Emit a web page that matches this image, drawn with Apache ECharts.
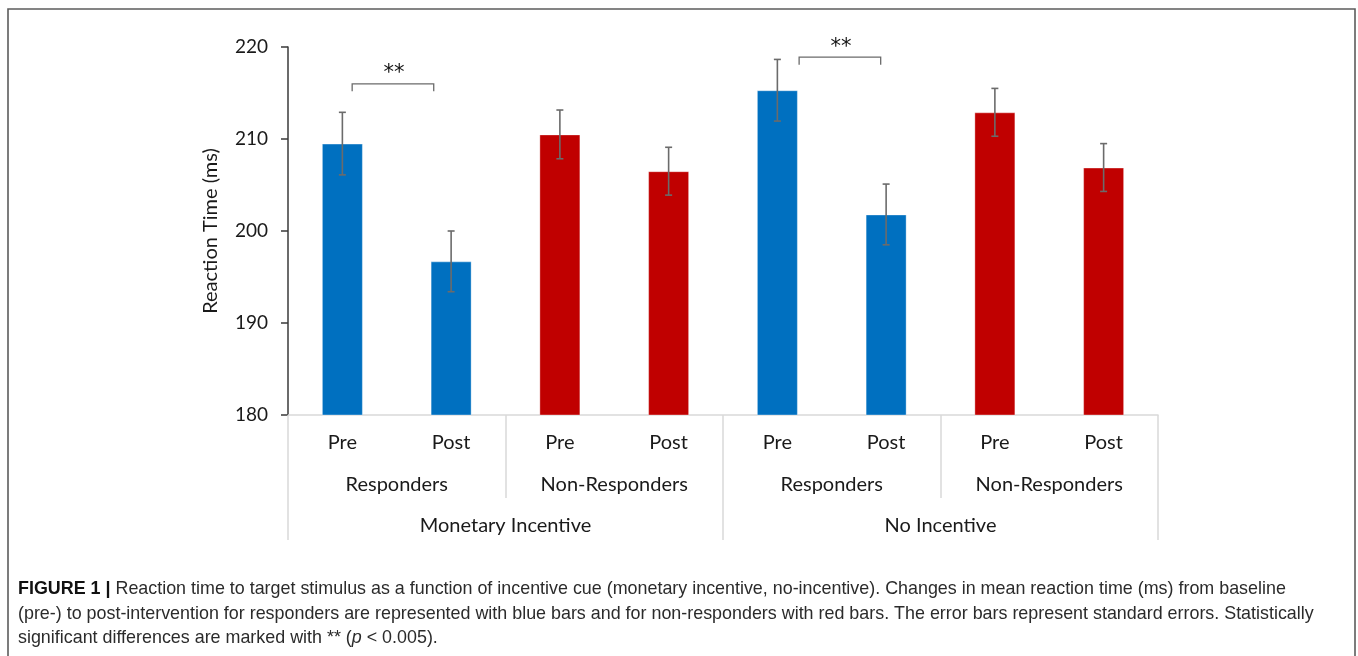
<!DOCTYPE html>
<html>
<head>
<meta charset="utf-8">
<title>Reaction time by incentive cue</title>
<script src="https://cdn.jsdelivr.net/npm/echarts@6/dist/echarts.min.js"></script>
<style>
  html, body { margin: 0; padding: 0; background: #ffffff; }
  #chart { width: 1358px; height: 656px; }
</style>
</head>
<body>
<div id="chart"></div>
<script>
// Session labels (innermost category row)
const sessions = ['Pre', 'Post', 'Pre', 'Post', 'Pre', 'Post', 'Pre', 'Post'];
// Responder groups (middle row)
const groups = ['Responders', 'Non-Responders', 'Responders', 'Non-Responders'];
// Incentive conditions (outer row)
const conditions = ['Monetary Incentive', 'No Incentive'];

// Mean reaction time (ms) and standard error per bar
const meanRT = [209.5, 196.7, 210.5, 206.5, 215.3, 201.8, 212.9, 206.9];
const stdErr = [3.4, 3.3, 2.65, 2.6, 3.35, 3.3, 2.6, 2.6];
// Responders drawn blue, non-responders red
const barGroup = ['resp', 'resp', 'non', 'non', 'resp', 'resp', 'non', 'non'];

// Significance brackets: [first bar, bracket height (ms), second bar]
const sigBrackets = [[0, 216.0, 1], [4, 218.9, 5]];
const sigLabel = '**';

// Y-axis ticks
const yMin = 180, yMax = 220, yStep = 10;

const colors = { resp: '#0070C0', non: '#C00000' };
const axisFont = 'Lato, "Open Sans", sans-serif';
const captionFont = '"Liberation Sans", Arial, sans-serif';
const gridLine = '#d9d9d9';

// Horizontal insets of each bracket end, as a fraction of a category band
const bracketInsets = [[0.09, 0.16], [0.2, 0.05]];

const chart = echarts.init(document.getElementById('chart'), null, { renderer: 'canvas' });

const barData = meanRT.map((v, i) => ({
  value: v,
  itemStyle: { color: colors[barGroup[i]] }
}));

const errData = meanRT.map((v, i) => [i, v, stdErr[i]]);

const catAxisBase = {
  type: 'category',
  position: 'bottom',
  gridIndex: 0,
  boundaryGap: true,
  axisLine: { show: false },
  splitLine: { show: false },
  axisLabel: { color: '#1a1a1a', fontFamily: axisFont, fontSize: 20 }
};

const option = {
  backgroundColor: '#ffffff',
  animation: false,
  grid: { left: 288, right: 200, top: 47, bottom: 241, containLabel: false },
  xAxis: [
    Object.assign({}, catAxisBase, {
      data: sessions,
      axisLine: { show: true, lineStyle: { color: gridLine, width: 1.5 } },
      axisTick: { show: false },
      axisLabel: Object.assign({}, catAxisBase.axisLabel, { margin: 18 })
    }),
    Object.assign({}, catAxisBase, {
      data: groups,
      axisTick: { show: true, length: 83, lineStyle: { color: gridLine, width: 1.5 } },
      axisLabel: Object.assign({}, catAxisBase.axisLabel, { margin: 60 })
    }),
    Object.assign({}, catAxisBase, {
      data: conditions,
      axisTick: { show: true, length: 125, lineStyle: { color: gridLine, width: 1.5 } },
      axisLabel: Object.assign({}, catAxisBase.axisLabel, { margin: 101 })
    })
  ],
  yAxis: {
    type: 'value',
    min: yMin,
    max: yMax,
    interval: yStep,
    name: 'Reaction Time (ms)',
    nameLocation: 'middle',
    nameGap: 67,
    nameRotate: 90,
    nameTextStyle: { color: '#1a1a1a', fontFamily: axisFont, fontSize: 20 },
    axisLine: { show: true, lineStyle: { color: '#3a3a3a', width: 1.5 } },
    axisTick: { show: true, length: 7, lineStyle: { color: '#3a3a3a', width: 1.5 } },
    splitLine: { show: false },
    axisLabel: { color: '#1a1a1a', fontFamily: axisFont, fontSize: 19, margin: 20 }
  },
  series: [
    {
      type: 'bar',
      xAxisIndex: 0,
      data: barData,
      barWidth: 41,
      itemStyle: { borderColor: 'rgba(255,255,255,0.35)', borderWidth: 1 },
      z: 2
    },
    {
      // Standard-error whiskers
      type: 'custom',
      xAxisIndex: 0,
      data: errData,
      encode: { x: 0, y: 1 },
      z: 5,
      renderItem: function (params, api) {
        const idx = api.value(0);
        const mean = api.value(1);
        const se = api.value(2);
        const top = api.coord([idx, mean + se]);
        const bot = api.coord([idx, mean - se]);
        const half = 3.5;
        const style = { stroke: '#6b6b6b', lineWidth: 1.6, fill: null };
        return {
          type: 'group',
          children: [
            { type: 'line', shape: { x1: top[0], y1: top[1], x2: bot[0], y2: bot[1] }, style: style },
            { type: 'line', shape: { x1: top[0] - half, y1: top[1], x2: top[0] + half, y2: top[1] }, style: style },
            { type: 'line', shape: { x1: bot[0] - half, y1: bot[1], x2: bot[0] + half, y2: bot[1] }, style: style }
          ]
        };
      }
    },
    {
      // Significance brackets with their markers
      type: 'custom',
      xAxisIndex: 0,
      data: sigBrackets,
      encode: { x: 0, y: 1 },
      z: 6,
      renderItem: function (params, api) {
        const a = api.value(0);
        const level = api.value(1);
        const b = api.value(2);
        const band = api.size([1, 0])[0];
        const inset = bracketInsets[params.dataIndex] || [0.1, 0.1];
        const pa = api.coord([a, level]);
        const pb = api.coord([b, level]);
        const legEnd = api.coord([a, level - 0.82])[1];
        const x1 = pa[0] + inset[0] * band;
        const x2 = pb[0] - inset[1] * band;
        const y = pa[1];
        return {
          type: 'group',
          children: [
            {
              type: 'polyline',
              shape: { points: [[x1, legEnd], [x1, y], [x2, y], [x2, legEnd]] },
              style: { stroke: '#6b6b6b', lineWidth: 1.3, fill: null }
            },
            {
              type: 'text',
              style: {
                text: sigLabel,
                x: (x1 + x2) / 2 + 1,
                y: y - 10,
                align: 'center',
                verticalAlign: 'middle',
                fill: '#111111',
                font: '21px "DejaVu Sans", sans-serif'
              }
            }
          ]
        };
      }
    }
  ],
  graphic: [
    {
      type: 'rect',
      shape: { x: 8, y: 9, width: 1347, height: 660 },
      style: { fill: null, stroke: '#5c5c5c', lineWidth: 1.6 },
      silent: true,
      z: 100
    },
    {
      type: 'text',
      left: 18,
      top: 577,
      style: {
        text: '{b|FIGURE 1 |} Reaction time to target stimulus as a function of incentive cue (monetary incentive, no-incentive). Changes in mean reaction time (ms) from baseline\n' +
              '(pre-) to post-intervention for responders are represented with blue bars and for non-responders with red bars. The error bars represent standard errors. Statistically\n' +
              'significant differences are marked with ** ({i|p} < 0.005).',
        fill: '#2b2b2b',
        font: '17.9px ' + captionFont,
        lineHeight: 24.5,
        rich: {
          b: { fontWeight: 'bold', fill: '#111111', fontSize: 17.9, fontFamily: captionFont, lineHeight: 24.5 },
          i: { fontStyle: 'italic', fill: '#2b2b2b', fontSize: 17.9, fontFamily: captionFont, lineHeight: 24.5 }
        }
      },
      silent: true
    }
  ]
};

chart.setOption(option);
</script>
</body>
</html>
